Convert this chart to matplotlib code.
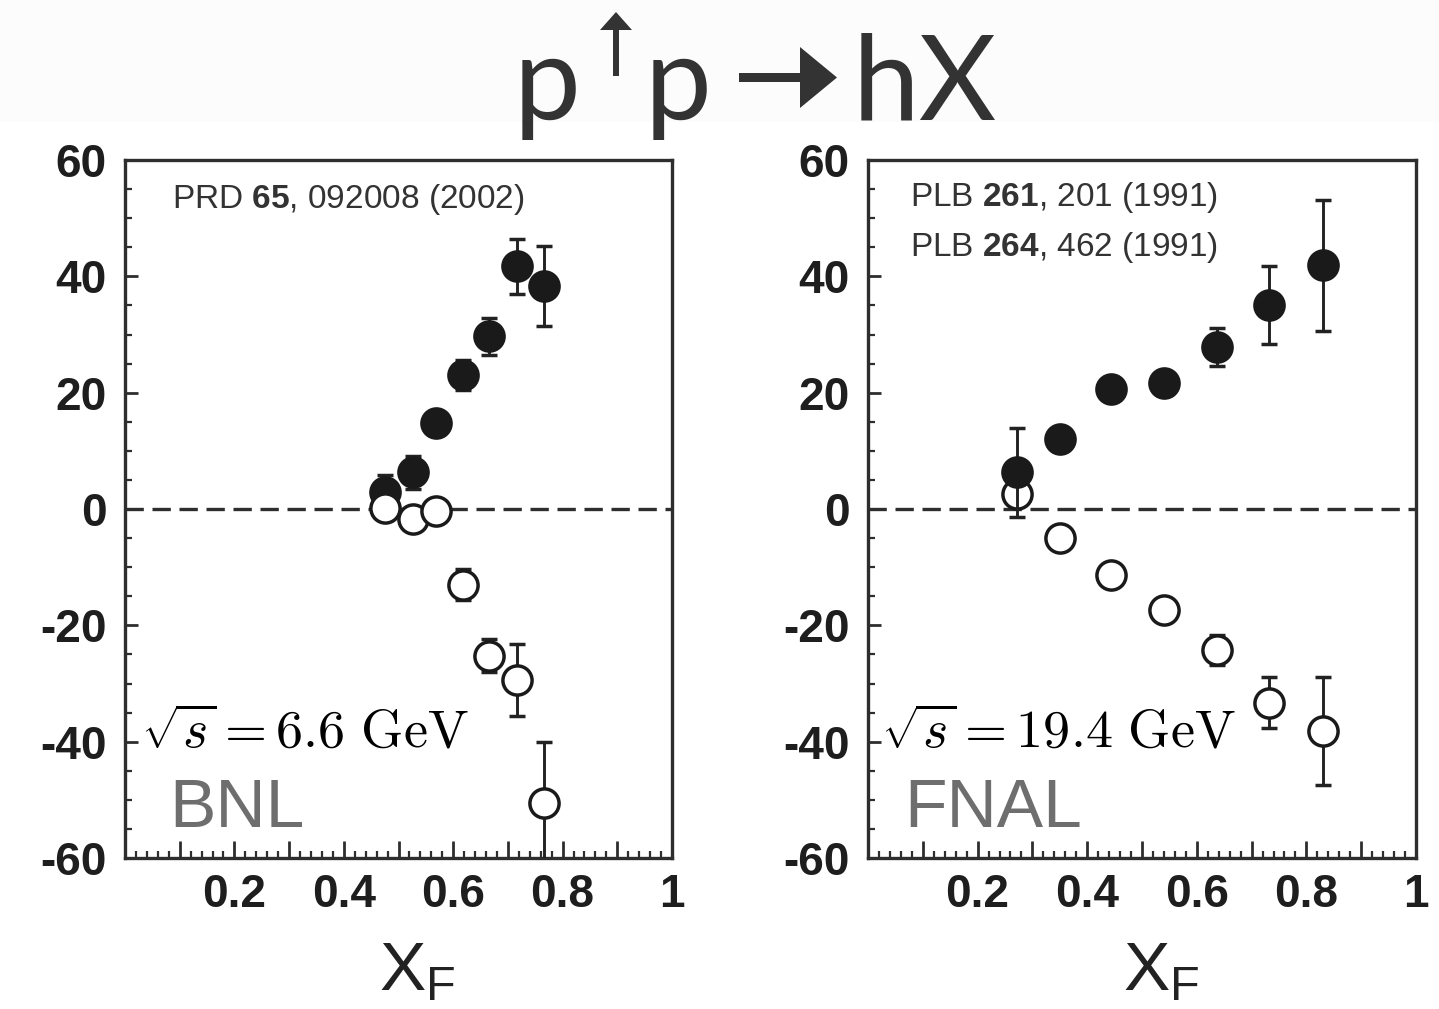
import numpy as np
import matplotlib
matplotlib.use("Agg")
import matplotlib.pyplot as plt
from matplotlib.ticker import MultipleLocator, FuncFormatter
from matplotlib.patches import Polygon, Rectangle

plt.rcParams.update({
    "axes.unicode_minus": False,
    "mathtext.fontset": "custom",
    "mathtext.rm": "Liberation Sans",
    "mathtext.bf": "Liberation Sans:bold",
})

NARROW = ["Liberation Sans Narrow", "Liberation Sans", "DejaVu Sans"]
INK = "#222222"

# ── data (A_N in %, vs x_F) ──────────────────────────────────────────────────
bnl_xf = [0.475, 0.527, 0.569, 0.618, 0.665, 0.717, 0.766]
bnl_pos = [2.9, 6.3, 14.7, 23.1, 29.7, 41.7, 38.3]
bnl_pos_err = [3.0, 2.8, 2.0, 2.6, 3.2, 4.7, 6.9]
bnl_neg = [0.2, -1.8, -0.3, -13.0, -25.2, -29.4, -50.6]
bnl_neg_err = [1.5, 1.5, 1.5, 2.6, 2.8, 6.2, 10.5]

fnal_xf = [0.272, 0.351, 0.443, 0.540, 0.636, 0.732, 0.831]
fnal_pos = [6.3, 12.0, 20.7, 21.6, 27.9, 35.0, 41.9]
fnal_pos_err = [7.6, 2.0, 2.0, 2.0, 3.3, 6.7, 11.3]
fnal_neg = [2.6, -4.9, -11.4, -17.3, -24.3, -33.3, -38.2]
fnal_neg_err = [1.5, 1.5, 1.5, 1.5, 2.6, 4.4, 9.3]

W, H = 1439, 1009
fig = plt.figure(figsize=(W / 100, H / 100), dpi=100, facecolor="white")

def fx(px): return px / W
def fy(py): return 1 - py / H

# very faint header band
fig.patches.append(Rectangle((0, fy(122)), 1, 1 - fy(122), transform=fig.transFigure,
                             facecolor="#fcfcfc", edgecolor="none", zorder=0))


def draw_series(ax, x, y, err, filled, z):
    ax.errorbar(x, y, yerr=err, fmt="o", ms=21,
                mfc=("#1a1a1a" if filled else "white"), mec="#1a1a1a", mew=2.5,
                ecolor=INK, elinewidth=2.1, capsize=5.5, capthick=2.1, zorder=z)


def style_ax(ax):
    ax.set_xlim(0, 1)
    ax.set_ylim(-60, 60)
    ax.axhline(0, color="#2e2e2e", lw=2.4, dashes=(5.5, 2.6), zorder=1)
    for sp in ax.spines.values():
        sp.set_linewidth(2.4)
        sp.set_color("#2e2e2e")
    ax.xaxis.set_major_locator(MultipleLocator(0.1))
    ax.xaxis.set_minor_locator(MultipleLocator(0.02))
    ax.xaxis.set_major_formatter(FuncFormatter(
        lambda v, p: ("%g" % round(v, 1)) if (v > 0.05 and abs(round(v * 5) - v * 5) < 1e-6) else ""))
    ax.yaxis.set_major_locator(MultipleLocator(20))
    ax.yaxis.set_minor_locator(MultipleLocator(5))
    ax.yaxis.set_major_formatter(FuncFormatter(lambda v, p: "%d" % v))
    ax.tick_params(axis="both", which="both", direction="in", top=False, right=False,
                   color="#2e2e2e")
    ax.tick_params(axis="x", which="major", length=12, width=2.0, pad=11)
    ax.tick_params(axis="x", which="minor", length=5, width=1.6)
    ax.tick_params(axis="y", which="major", length=9, width=2.0, pad=13)
    ax.tick_params(axis="y", which="minor", length=5, width=1.6)
    for lab in ax.get_xticklabels() + ax.get_yticklabels():
        lab.set_family(NARROW)
        lab.set_fontweight("bold")
        lab.set_fontsize(33)
        lab.set_color("#1e1e1e")
    lbl = ax.set_xlabel(r"$\mathregular{X_F}$", fontsize=50, family=NARROW, color="#222222")
    lbl.set_va("baseline")
    ax.xaxis.set_label_coords(0.535, -0.189)


axL = fig.add_axes([fx(125), fy(858), fx(672) - fx(125), fy(160) - fy(858)])
axR = fig.add_axes([fx(868), fy(858), fx(1416) - fx(868), fy(160) - fy(858)])

# left: BNL
style_ax(axL)
draw_series(axL, bnl_xf, bnl_pos, bnl_pos_err, True, 3)
draw_series(axL, bnl_xf, bnl_neg, bnl_neg_err, False, 4)
axL.text(0.086, 0.943, r"PRD $\mathbf{65}$, 092008 (2002)", transform=axL.transAxes,
         fontsize=24, family=NARROW, color="#333333", va="center", ha="left",
         math_fontfamily="custom")
axL.text(0.030, 0.180, r"$\sqrt{s} = 6.6\ \mathrm{GeV}$", transform=axL.transAxes,
         fontsize=39, color="black", va="center", ha="left", math_fontfamily="cm", zorder=10)
axL.text(0.080, 0.044, "BNL", transform=axL.transAxes, fontsize=50,
         family=["Liberation Sans", "DejaVu Sans"], color="#6e6e6e", va="baseline", ha="left")

# right: FNAL
style_ax(axR)
draw_series(axR, fnal_xf, fnal_neg, fnal_neg_err, False, 3)
draw_series(axR, fnal_xf, fnal_pos, fnal_pos_err, True, 4)
axR.text(0.077, 0.946, r"PLB $\mathbf{261}$, 201 (1991)", transform=axR.transAxes,
         fontsize=24, family=NARROW, color="#333333", va="center", ha="left",
         math_fontfamily="custom")
axR.text(0.077, 0.875, r"PLB $\mathbf{264}$, 462 (1991)", transform=axR.transAxes,
         fontsize=24, family=NARROW, color="#333333", va="center", ha="left",
         math_fontfamily="custom")
axR.text(0.024, 0.180, r"$\sqrt{s} = 19.4\ \mathrm{GeV}$", transform=axR.transAxes,
         fontsize=39, color="black", va="center", ha="left", math_fontfamily="cm", zorder=10)
axR.text(0.066, 0.044, "FNAL", transform=axR.transAxes, fontsize=50,
         family=["Liberation Sans", "DejaVu Sans"], color="#6e6e6e", va="baseline", ha="left")

# ── title  p↑p → hX ──────────────────────────────────────────────────────────
TCOL = "#333333"
tkw = dict(fontsize=86, family=["Lato", "DejaVu Sans"], color=TCOL, va="baseline", ha="left")
fig.text(fx(514), fy(120), "p", **tkw)
fig.text(fx(645), fy(120), "p", **tkw)
fig.text(fx(853), fy(120), "hX", **tkw)


def poly(pts, **kw):
    fig.patches.append(Polygon([(fx(a), fy(b)) for a, b in pts], closed=True,
                               transform=fig.transFigure, facecolor=TCOL,
                               edgecolor="none", **kw))

# up arrow (spin)
poly([(613, 76), (619, 76), (619, 30), (613, 30)])
poly([(600, 30), (632, 30), (616, 12)])
# reaction arrow
poly([(739, 73), (802, 73), (802, 82), (739, 82)])
poly([(800, 47), (837, 77.5), (800, 108)])

fig.savefig("out.png", dpi=100, facecolor="white")
